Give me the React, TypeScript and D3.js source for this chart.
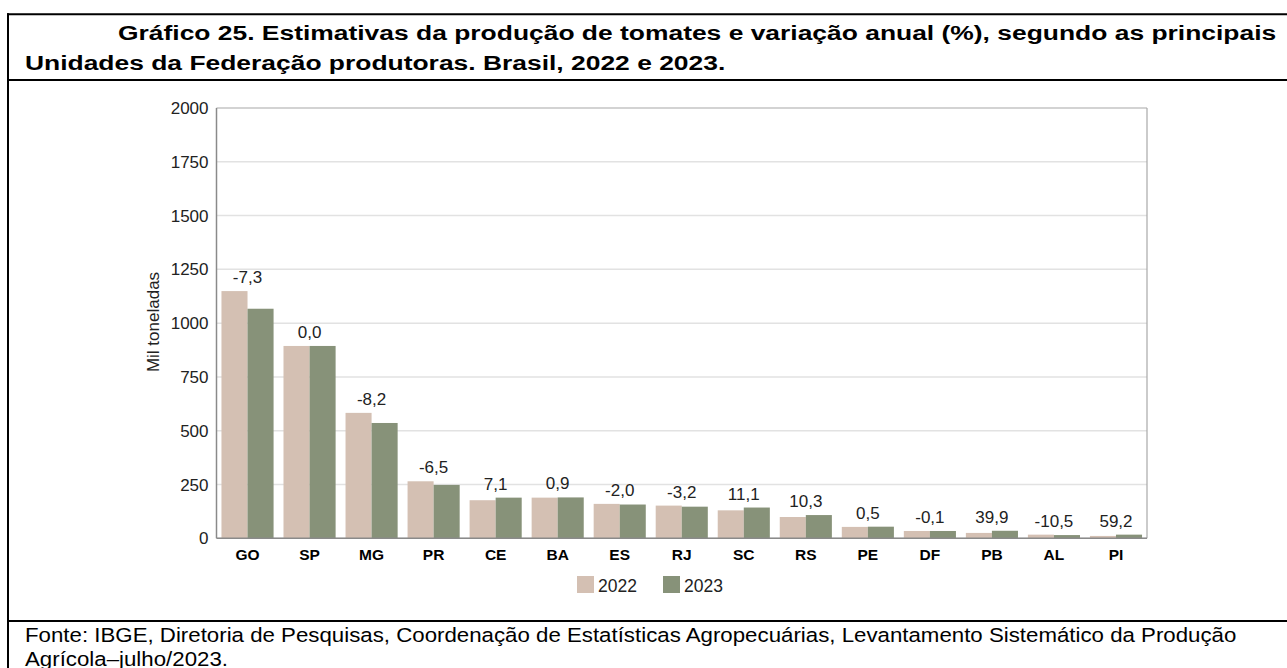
import React from "react";
import * as d3 from "d3";

const categories = ["GO", "SP", "MG", "PR", "CE", "BA", "ES", "RJ", "SC", "RS", "PE", "DF", "PB", "AL", "PI"];
const values2022 = [1149, 894, 583, 265, 177, 189, 160, 152, 130, 99, 53, 34, 25, 17, 11];
const values2023 = [1067, 894, 536, 248, 189, 190, 157, 147, 143, 108, 54, 34, 35, 15, 17];
const variationLabels = ["-7,3", "0,0", "-8,2", "-6,5", "7,1", "0,9", "-2,0", "-3,2", "11,1", "10,3", "0,5", "-0,1", "39,9", "-10,5", "59,2"];
const seriesNames = ["2022", "2023"];
const seriesColors = ["#d4c0b3", "#879279"];
const yTicks = [0, 250, 500, 750, 1000, 1250, 1500, 1750, 2000];

const titleLine1 = "Gráfico 25. Estimativas da produção de tomates e variação anual (%), segundo as principais";
const titleLine2 = "Unidades da Federação produtoras. Brasil, 2022 e 2023.";
const footLine1 = "Fonte: IBGE, Diretoria de Pesquisas, Coordenação de Estatísticas Agropecuárias, Levantamento Sistemático da Produção";
const footLine2 = "Agrícola–julho/2023.";

const W = 1287;
const H = 668;
const FONT = "'Liberation Sans', Arial, sans-serif";

export default function App() {
  const plotLeft = 216.5;
  const plotRight = 1147;
  const plotTop = 108;
  const plotBottom = 538.3;

  const y = d3.scaleLinear().domain([0, 2000]).range([plotBottom, plotTop]);
  const x0 = d3.scaleBand<string>().domain(categories).range([plotLeft, plotRight]).paddingInner(0.16).paddingOuter(0.08);
  const x1 = d3.scaleBand<string>().domain(seriesNames).range([0, x0.bandwidth()]);

  const series = [values2022, values2023];
  const titleStretch = 1.258;
  const footStretch = 1.142;

  return (
    <svg width={W} height={H} style={{ position: "absolute", left: 0, top: 0, background: "#fff" }} fontFamily={FONT}>
      <rect x={0} y={0} width={W} height={H} fill="#fff" />
      {/* outer frame */}
      <line x1={7} x2={W} y1={14.3} y2={14.3} stroke="#000" strokeWidth={2} />
      <line x1={8} x2={8} y1={13.3} y2={H} stroke="#000" strokeWidth={2} />
      <line x1={7} x2={W} y1={80} y2={80} stroke="#000" strokeWidth={2} />
      <line x1={7} x2={W} y1={621} y2={621} stroke="#000" strokeWidth={2} />

      {/* title */}
      <text transform={`translate(118,40) scale(${titleStretch},1)`} fontSize={21} fontWeight="bold" fill="#000">{titleLine1}</text>
      <text transform={`translate(25,70) scale(${titleStretch},1)`} fontSize={21} fontWeight="bold" fill="#000">{titleLine2}</text>

      {/* footer */}
      <text transform={`translate(25,642) scale(${footStretch},1)`} fontSize={19.5} fill="#000">{footLine1}</text>
      <text transform={`translate(25,666) scale(${footStretch},1)`} fontSize={19.5} fill="#000">{footLine2}</text>

      {/* gridlines */}
      {yTicks.map((t) => (
        <line key={"g" + t} x1={plotLeft} x2={plotRight} y1={y(t)} y2={y(t)} stroke={t === 2000 ? "#a8a8a8" : "#e2e2e2"} strokeWidth={t === 2000 ? 1.2 : 1.5} />
      ))}
      {/* plot frame */}
      <line x1={plotRight} x2={plotRight} y1={plotTop} y2={plotBottom} stroke="#a8a8a8" strokeWidth={1.2} />

      {/* bars */}
      {categories.map((c, i) => (
        <g key={c} transform={`translate(${x0(c)},0)`}>
          {series.map((s, j) => (
            <rect
              key={j}
              x={x1(seriesNames[j])}
              y={y(s[i])}
              width={x1.bandwidth()}
              height={plotBottom - y(s[i])}
              fill={seriesColors[j]}
            />
          ))}
        </g>
      ))}

      {/* axes lines */}
      <line x1={plotLeft} x2={plotLeft} y1={plotTop} y2={plotBottom} stroke="#8a8a8a" strokeWidth={1.5} />
      <line x1={plotLeft} x2={plotRight} y1={plotBottom} y2={plotBottom} stroke="#8a8a8a" strokeWidth={1.5} />

      {/* y tick labels */}
      {yTicks.map((t) => (
        <text key={"t" + t} x={208.5} y={y(t)} dy="0.36em" textAnchor="end" fontSize={17} fill="#222">{t}</text>
      ))}

      {/* y axis title */}
      <text transform={`translate(159,322) rotate(-90)`} textAnchor="middle" fontSize={17} fill="#222">Mil toneladas</text>

      {/* variation labels */}
      {categories.map((c, i) => (
        <text
          key={"l" + c}
          x={(x0(c) as number) + x0.bandwidth() / 2}
          y={y(Math.max(values2022[i], values2023[i])) - 8}
          textAnchor="middle"
          fontSize={17}
          fill="#222"
        >
          {variationLabels[i]}
        </text>
      ))}

      {/* category labels */}
      {categories.map((c) => (
        <text key={"c" + c} x={(x0(c) as number) + x0.bandwidth() / 2} y={559.5} textAnchor="middle" fontSize={15.5} fontWeight="bold" fill="#000">
          {c}
        </text>
      ))}

      {/* legend */}
      {seriesNames.map((n, j) => (
        <g key={n} transform={`translate(${[577, 663][j]},576)`}>
          <rect x={0} y={0} width={17} height={17} fill={seriesColors[j]} />
          <text x={21} y={15.5} fontSize={17.5} fill="#222">{n}</text>
        </g>
      ))}
    </svg>
  );
}
